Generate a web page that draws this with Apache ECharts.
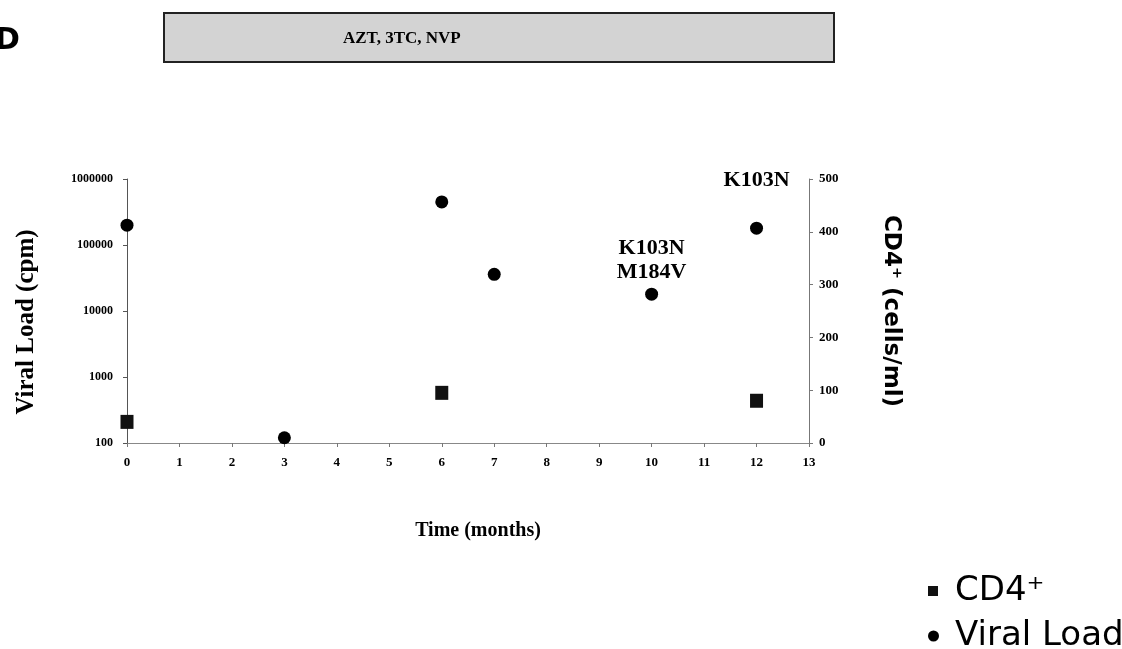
<!DOCTYPE html>
<html><head><meta charset="utf-8">
<script src="https://cdn.jsdelivr.net/npm/echarts@6/dist/echarts.min.js"></script>
<style>html,body{margin:0;padding:0;background:#fff}#c{width:1122px;height:649px}</style>
</head><body><div id="c"></div>
<script>
const monthTicks = [0,1,2,3,4,5,6,7,8,9,10,11,12,13];
const vlMonths = [0, 3, 6, 7, 10, 12];
const viralLoad = [200000, 120, 450000, 36000, 18000, 180000];
const mutations = ['', '', '', '', 'K103N\nM184V', 'K103N'];
const cd4Months = [0, 6, 12];
const cd4 = [40, 95, 80];

const serif = '"Liberation Serif", "DejaVu Serif", serif';
const sans = '"DejaVu Sans", sans-serif';

const vlData = vlMonths.map((m, i) => {
  const d = { value: [m, viralLoad[i]] };
  if (mutations[i]) {
    d.label = { show: true, formatter: mutations[i], position: 'top',
      distance: i === 5 ? 29 : 3, fontFamily: serif, fontWeight: 'bold',
      fontSize: 22, lineHeight: 24, color: '#000' };
  }
  return d;
});
const cd4Data = cd4Months.map((m, i) => [m, cd4[i]]);

const legendText = { fontFamily: sans, fontSize: 34, lineHeight: 38, color: '#000', padding: [0, 0, 0, 12] };

const chart = echarts.init(document.getElementById('c'));
chart.setOption({
  backgroundColor: '#fff',
  animation: false,
  grid: { left: 127, right: 313, top: 179, bottom: 206 },
  xAxis: {
    type: 'value', min: 0, max: 13, interval: 1,
    name: 'Time (months)', nameLocation: 'middle', nameGap: 78,
    nameTextStyle: { fontFamily: serif, fontWeight: 'bold', fontSize: 20, color: '#000', padding: [0, 0, 0, 20] },
    axisLine: { lineStyle: { color: '#888', width: 1 } },
    axisTick: { show: true, length: 4, lineStyle: { color: '#777' } },
    axisLabel: { fontFamily: serif, fontWeight: 'bold', fontSize: 13, color: '#000', margin: 13 },
    splitLine: { show: false }
  },
  yAxis: [
    {
      type: 'log', logBase: 10, min: 100, max: 1000000, position: 'left',
      name: 'Viral Load (cpm)', nameLocation: 'middle', nameGap: 88,
      nameTextStyle: { fontFamily: serif, fontWeight: 'bold', fontSize: 25, color: '#000', padding: [0, 22, 0, 0] },
      axisLine: { show: true, lineStyle: { color: '#555', width: 1 } },
      axisTick: { show: true, length: 4, lineStyle: { color: '#555' } },
      axisLabel: { fontFamily: serif, fontWeight: 'bold', fontSize: 12, color: '#000', margin: 14,
        formatter: v => String(Math.round(v)) },
      splitLine: { show: false }
    },
    {
      type: 'value', min: 0, max: 500, interval: 100, position: 'right',
      name: 'CD4⁺ (cells/ml)', nameLocation: 'middle', nameGap: 70, nameRotate: -90,
      nameTextStyle: { fontFamily: sans, fontWeight: 'bold', fontSize: 23, color: '#000' },
      axisLine: { show: true, lineStyle: { color: '#777', width: 1 } },
      axisTick: { show: true, length: 4, lineStyle: { color: '#777' } },
      axisLabel: { fontFamily: serif, fontWeight: 'bold', fontSize: 13, color: '#000', margin: 10 },
      splitLine: { show: false }
    }
  ],
  legend: [
    { orient: 'vertical', left: 928, top: 572, padding: 0, itemWidth: 10, itemHeight: 10,
      textStyle: legendText,
      data: [{ name: 'CD4⁺', icon: 'rect', itemStyle: { color: '#111' } }] },
    { orient: 'vertical', left: 928, top: 617, padding: 0, itemWidth: 11, itemHeight: 11,
      textStyle: Object.assign({}, legendText, { padding: [0, 0, 0, 11] }),
      data: [{ name: 'Viral Load', icon: 'circle', itemStyle: { color: '#000' } }] }
  ],
  graphic: [
    { type: 'text', left: -5, top: 26, style: { text: 'D', font: 'bold 30px "DejaVu Sans"', fill: '#000' } },
    { type: 'rect', left: 163, top: 12, shape: { width: 670, height: 49 },
      style: { fill: '#d3d3d3', stroke: '#222', lineWidth: 2 } },
    { type: 'text', left: 343, top: 30,
      style: { text: 'AZT, 3TC, NVP', font: 'bold 17px "Liberation Serif"', fill: '#000' } }
  ],
  series: [
    { name: 'CD4⁺', type: 'scatter', yAxisIndex: 1, symbol: 'rect', symbolSize: [13, 14],
      itemStyle: { color: '#111', opacity: 1 }, data: cd4Data, z: 3 },
    { name: 'Viral Load', type: 'scatter', yAxisIndex: 0, symbol: 'circle', symbolSize: 13,
      itemStyle: { color: '#000', opacity: 1 }, data: vlData, z: 4 }
  ]
});
</script></body></html>
